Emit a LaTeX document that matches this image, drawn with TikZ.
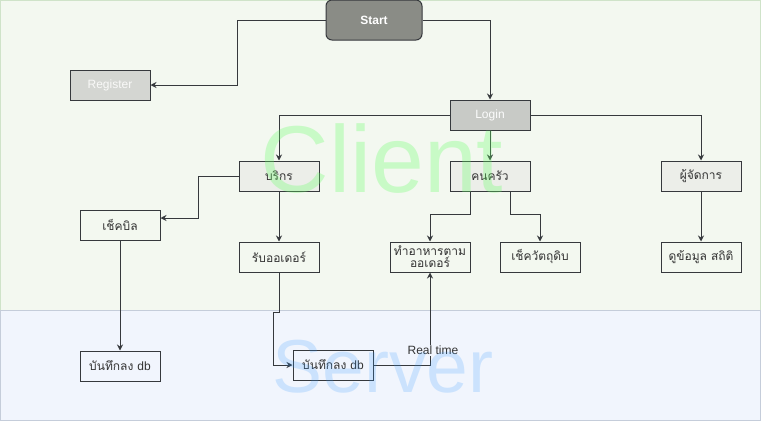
\documentclass[tikz,border=0pt]{standalone}
\usepackage{fontspec}
\setmainfont{Liberation Sans}
\newfontfamily\thaifont[Script=Thai]{Loma}
\usepackage{xcolor}
\usetikzlibrary{arrows.meta, positioning}

\definecolor{clientbg}{HTML}{F3F8F0}
\definecolor{clientline}{HTML}{CFE3C9}
\definecolor{serverbg}{HTML}{F1F5FD}
\definecolor{serverline}{HTML}{C5CDDA}
\definecolor{boxline}{HTML}{36393D}
\definecolor{boxtext}{HTML}{333333}
\definecolor{rolefill}{HTML}{ECEEE9}
\definecolor{startfill}{HTML}{8A8C86}
\definecolor{regfill}{HTML}{D4D6D2}
\definecolor{loginfill}{HTML}{C8CAC6}
\definecolor{clientmark}{HTML}{66FF66}
\definecolor{servermark}{HTML}{3399FF}

\tikzset{
  box/.style={draw=boxline, minimum width=80pt, minimum height=30pt, inner sep=2pt,
    text=boxtext, align=center, font=\fontsize{12}{14}\selectfont\thaifont},
  role/.style={box, fill=rolefill},
  latin/.style={font=\fontsize{12}{14}\selectfont},
  wmark/.style={inner sep=0pt, anchor=base west},
}

\begin{document}
\begin{tikzpicture}[x=1pt, y=-1pt, ->, >={Stealth[length=6pt, width=6pt]}, color=boxline, line width=1pt, node distance=30pt]
\path[use as bounding box] (0,0) rectangle (761,421);
% Zonas
\draw[-, fill=clientbg, draw=clientline] (0.5,0.5) rectangle (760.5,310);
\draw[-, fill=serverbg, draw=serverline] (0.5,310) rectangle (760.5,420.5);
% Nodos
\node[box, fill=startfill, rounded corners=6pt, minimum width=96pt, minimum height=40pt,
  text=white, font=\bfseries\fontsize{12}{14}\selectfont] (start) at (374,20) {Start};
\node[box, latin, fill=regfill, text=white!85!regfill] (reg) at (110,85) {Register};
\node[box, latin, fill=loginfill, text=white!95!loginfill] (login) at (490,115) {Login};
\node[role, below=of login] (kitchen) {คนครัว};
\node[role, left=130pt of kitchen] (waiter) {บริกร};
\node[role, right=130pt of kitchen] (manager) {ผู้จัดการ};
\node[box, below=50pt of waiter] (order) {รับออเดอร์};
\node[box, below=50pt of manager] (stats) {ดูข้อมูล สถิติ};
\node[box, below=50pt of kitchen, xshift=-60pt, inner sep=0pt, font=\fontsize{12}{12}\selectfont\thaifont] (cook) {ทำอาหารตาม\\ออเดอร์};
\node[box, below=50pt of kitchen, xshift=50pt] (stock) {เช็ควัตถุดิบ};
\node[box] (bill) at (120,225) {เช็คบิล};
\node[box, below=110pt of bill] (db1) {บันทึกลง {\fontspec{Liberation Sans}db}};
\node[box] (db2) at (333,365) {บันทึกลง {\fontspec{Liberation Sans}db}};
% Enlaces
\draw (start.west) -- ++(-88,0) |- (reg.east);
\draw (start.east) -| (login.north);
\draw (login.west) -| (waiter.north);
\draw (login) -- (kitchen);
\draw (login.east) -| (manager.north);
\draw (waiter.west) -- ++(-40,0) |- ([yshift=7pt]bill.east);
\draw (waiter) -- (order);
\draw ([xshift=-20pt]kitchen.south) -- ++(0,23) -| (cook.north);
\draw ([xshift=20pt]kitchen.south) -- ++(0,23) -| (stock.north);
\draw (manager) -- (stats);
\draw (bill) -- (db1);
\draw (order.south) -- ++(0,40) -- ++(-6,0) |- (db2.west);
\draw (db2.east) -| node[pos=0.58, xshift=3pt, fill=serverbg, inner sep=1pt, text=boxtext,
  font=\fontsize{12}{14}\selectfont] (rt) {Real time} (cook.south);
% Marcas de agua
\node[wmark, text=clientmark, text opacity=0.3, font=\fontsize{95}{95}\selectfont] (clientmark) at (260,192) {Client};
\node[wmark, text=servermark, text opacity=0.2, font=\fontsize{75}{75}\selectfont] (servermark) at (272,392) {Server};
\end{tikzpicture}
\end{document}
